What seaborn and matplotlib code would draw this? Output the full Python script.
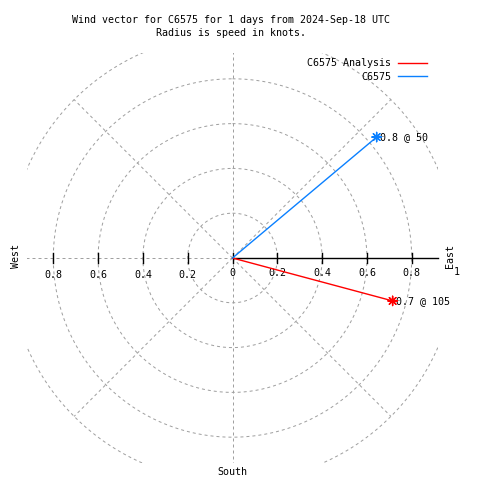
import numpy as np
import pandas as pd
import matplotlib
matplotlib.use("Agg")
import matplotlib.pyplot as plt
from matplotlib.patches import Rectangle
import seaborn as sns

# ── Data ───────────────────────────────────────────────────────────────────
SERIES     = ["C6575 Analysis", "C6575"]
SPEEDS     = [0.74, 0.84]          # knots (radius)
DIRECTIONS = [105, 50]             # degrees clockwise from north
COLORS     = ["#ff0000", "#0a80ff"]

RING_RADII  = [0.2, 0.4, 0.6, 0.8, 1.0]
SPOKE_ANGLES = [0, 45, 90, 135, 180, 225, 270, 315]
TICK_VALUES = [0.2, 0.4, 0.6, 0.8]
TICK_LABELS = ["0.2", "0.4", "0.6", "0.8"]

TITLE_1 = "Wind vector for C6575 for 1 days from 2024-Sep-18 UTC"
TITLE_2 = "Radius is speed in knots."

# ── Layout (pixels of a 480x480 canvas) ────────────────────────────────────
W = H = 480
CX, CY = 232.5, 258.0
SCALE = 224.0
BOX = 0.917
GRID = "#a0a0a0"
FONT = dict(family="DejaVu Sans Mono", size=7.2)

fig = plt.figure(figsize=(W / 100, H / 100), dpi=100)
ax = fig.add_axes([0, 0, 1, 1])
ax.set_xlim(-CX / SCALE, (W - CX) / SCALE)
ax.set_ylim(-(H - CY) / SCALE, CY / SCALE)
ax.axis("off")

def to_xy(r, deg):
    a = np.deg2rad(deg)
    return r * np.sin(a), r * np.cos(a)

clip = Rectangle((-BOX, -BOX), 2 * BOX, 2 * BOX, transform=ax.transData)

# ── Polar grid ─────────────────────────────────────────────────────────────
theta = np.linspace(0, 360, 721)
for r in RING_RADII:
    gx, gy = to_xy(r, theta)
    ln, = ax.plot(gx, gy, color=GRID, lw=0.72, ls=(0, (3, 3)), zorder=1)
    ln.set_clip_path(clip)
for a in SPOKE_ANGLES:
    gx, gy = to_xy(np.array([0, 1.0]), a)
    ln, = ax.plot(gx, gy, color=GRID, lw=0.72, ls=(0, (3, 3)), zorder=1)
    ln.set_clip_path(clip)

# east axis with ticks
ax.plot([0, BOX], [0, 0], color="black", lw=1.0, zorder=2)
tick_h = 5 / SCALE
for t in [0] + TICK_VALUES + [-t for t in TICK_VALUES]:
    ax.plot([t, t], [-tick_h, tick_h], color="black", lw=1.0, zorder=2)

lab_y = -(273.5 - CY) / SCALE
ax.text(0, lab_y, "0", ha="center", va="center", **FONT)
for t, lab in zip(TICK_VALUES, TICK_LABELS):
    ax.text(t, lab_y, lab, ha="center", va="center", **FONT)
    ax.text(-t, -(275 - CY) / SCALE, lab, ha="center", va="center", **FONT)
ax.text(1.0, -(272 - CY) / SCALE, "1", ha="center", va="center", **FONT)

fig.text(450.5 / W, 1 - 256 / H, "East", rotation=90, ha="center", va="center", **FONT)
fig.text(16 / W, 1 - 256 / H, "West", rotation=90, ha="center", va="center", **FONT)
fig.text(232 / W, 1 - 472 / H, "South", ha="center", va="center", **FONT)

# ── Vectors ────────────────────────────────────────────────────────────────
rows = []
for name, spd, d in zip(SERIES, SPEEDS, DIRECTIONS):
    ex, ey = to_xy(spd, d)
    rows.append({"series": name, "x": 0.0, "y": 0.0, "end": False})
    rows.append({"series": name, "x": ex, "y": ey, "end": True})
df = pd.DataFrame(rows)
palette = dict(zip(SERIES, COLORS))

sns.lineplot(data=df, x="x", y="y", hue="series", hue_order=SERIES,
             palette=palette, sort=False, estimator=None, lw=1.0, ax=ax,
             zorder=3)
sns.scatterplot(data=df[df["end"]], x="x", y="y", hue="series",
                hue_order=SERIES, palette=palette, marker=(8, 2, 0), s=45,
                linewidth=1.0, legend=False, ax=ax, zorder=4)

for name, spd, d in zip(SERIES, SPEEDS, DIRECTIONS):
    ex, ey = to_xy(spd, d)
    ax.annotate(f"{spd:.1f} @ {d}", (ex, ey), xytext=(3, 0),
                textcoords="offset pixels", ha="left", va="center", **FONT)

ax.set_xlim(-CX / SCALE, (W - CX) / SCALE)
ax.set_ylim(-(H - CY) / SCALE, CY / SCALE)
ax.set_aspect("auto")

# ── Legend ─────────────────────────────────────────────────────────────────
sns.move_legend(ax, "upper right", bbox_to_anchor=(427 / W, 1 - 58 / H),
                bbox_transform=fig.transFigure, markerfirst=False,
                frameon=False, title=None, handlelength=2.9,
                handletextpad=0.7, borderpad=0, borderaxespad=0,
                labelspacing=0.35, prop=dict(family="DejaVu Sans Mono", size=7.2))
for h in ax.get_legend().legend_handles:
    h.set_linewidth(1.0)

# ── Title ──────────────────────────────────────────────────────────────────
fig.text(231 / W, 1 - 20 / H, TITLE_1, ha="center", va="center", **FONT)
fig.text(231 / W, 1 - 33 / H, TITLE_2, ha="center", va="center", **FONT)

fig.savefig("out.png", dpi=100)
